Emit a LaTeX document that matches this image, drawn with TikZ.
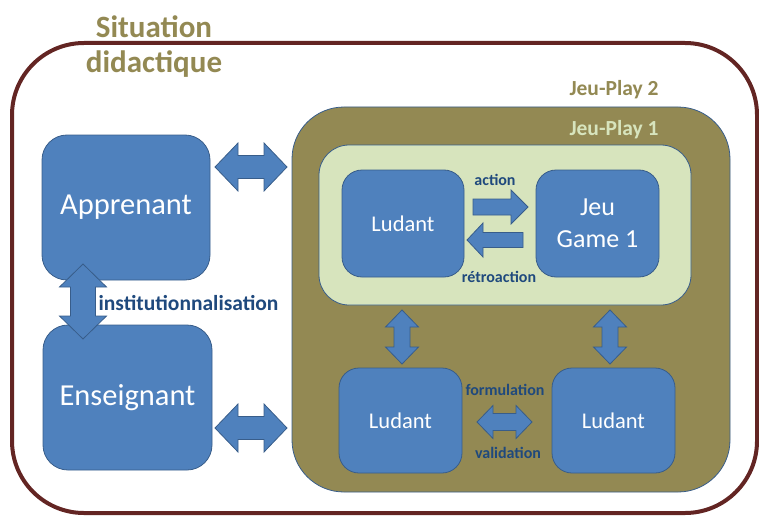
\documentclass[tikz,border=0pt]{standalone}
\usepackage{fontspec}
\setmainfont{Carlito}
\usetikzlibrary{calc}
\definecolor{olive}{HTML}{938953}
\definecolor{lgreen}{HTML}{D7E4BD}
\definecolor{bfill}{HTML}{4F81BD}
\definecolor{bline}{HTML}{385D8A}
\definecolor{dred}{HTML}{632523}
\definecolor{lblue}{HTML}{1F497D}
\tikzset{
  bluebox/.style={draw=bline, fill=bfill, line width=0.8pt, rounded corners=20pt, text=white, align=center, inner sep=0pt},
  barrow/.style={draw=bline, fill=bfill, line width=0.8pt, line join=miter},
  lbl/.style={text=lblue, font=\bfseries\fontsize{16}{18}\selectfont, inner sep=0pt},
  bigtxt/.style={font=\fontsize{30.5}{33}\selectfont},
  midtxt/.style={font=\fontsize{22.5}{30}\selectfont},
  gametxt/.style={font=\fontsize{26}{32}\selectfont},
  playlbl/.style={font=\bfseries\fontsize{21.5}{23}\selectfont, inner sep=0pt},
  sitlbl/.style={text=olive, font=\bfseries\fontsize{31}{33}\selectfont, inner sep=0pt},
}
% horizontal double arrow: #1 left end, #2 right end, #3 half head, #4 half shaft, #5 head length
\newcommand{\hdarrow}[5]{%
  \path[barrow] let \p1=(#1), \p2=(#2) in
    (\x1,\y1) -- (\x1+#5pt,\y1+#3pt) -- (\x1+#5pt,\y1+#4pt) -- (\x2-#5pt,\y1+#4pt) -- (\x2-#5pt,\y1+#3pt)
    -- (\x2,\y1) -- (\x2-#5pt,\y1-#3pt) -- (\x2-#5pt,\y1-#4pt) -- (\x1+#5pt,\y1-#4pt) -- (\x1+#5pt,\y1-#3pt) -- cycle;}
% vertical double arrow: #1 bottom end, #2 top end (canvas)
\newcommand{\vdarrow}[5]{%
  \path[barrow] let \p1=(#1), \p2=(#2) in
    (\x1,\y1) -- (\x1+#3pt,\y1+#5pt) -- (\x1+#4pt,\y1+#5pt) -- (\x1+#4pt,\y2-#5pt) -- (\x1+#3pt,\y2-#5pt)
    -- (\x1,\y2) -- (\x1-#3pt,\y2-#5pt) -- (\x1-#4pt,\y2-#5pt) -- (\x1-#4pt,\y1+#5pt) -- (\x1-#3pt,\y1+#5pt) -- cycle;}
% single horizontal arrow: #1 tail, #2 tip, #3 half head, #4 half shaft, #5 signed head length
\newcommand{\hsarrow}[5]{%
  \path[barrow] let \p1=(#1), \p2=(#2) in
    (\x1,\y1+#4pt) -- (\x2-#5pt,\y1+#4pt) -- (\x2-#5pt,\y1+#3pt) -- (\x2,\y1) -- (\x2-#5pt,\y1-#3pt)
    -- (\x2-#5pt,\y1-#4pt) -- (\x1,\y1-#4pt) -- cycle;}
\begin{document}
\begin{tikzpicture}[x=1pt,y=-1pt]
\useasboundingbox (0,0) rectangle (759,516);
% outer frame
\draw[draw=dred, line width=4pt, rounded corners=72pt] (12,43) rectangle (757,513);
\node[sitlbl] (sit1) at (154,27) {Situation};
\node[sitlbl] (sit2) at (154,64) {didactique};
% Jeu-Play 2
\node[draw=bline, fill=olive, line width=0.8pt, rounded corners=52pt, minimum width=438pt, minimum height=385pt, inner sep=0pt] (play2) at (511,299.5) {};
\node[playlbl, text=olive] (p2lbl) at (614,90) {Jeu-Play 2};
% Jeu-Play 1
\node[draw=bline, fill=lgreen, line width=0.8pt, rounded corners=30pt, minimum width=372pt, minimum height=160pt, inner sep=0pt] (play1) at (505,225) {};
\node[playlbl, text=lgreen] (p1lbl) at (614,130) {Jeu-Play 1};
% boxes
\node[bluebox, bigtxt, minimum width=168pt, minimum height=145pt, rounded corners=25pt] (app) at (126,207.5) {Apprenant};
\node[bluebox, bigtxt, minimum width=169pt, minimum height=145pt, rounded corners=25pt] (ens) at (127.5,397.5) {Enseignant};
\node[bluebox, midtxt, minimum width=122pt, minimum height=107pt] (lud1) at (403,223.5) {Ludant};
\node[bluebox, gametxt, minimum width=123pt, minimum height=107pt] (game) at (597.5,223.5) {Jeu\\Game 1};
\node[bluebox, midtxt, minimum width=123pt, minimum height=105pt] (lud2) at (400.5,420.5) {Ludant};
\node[bluebox, midtxt, minimum width=123pt, minimum height=105pt] (lud3) at (613.5,420.5) {Ludant};
% arrow end coordinates
\coordinate (a1l) at (215,167);  \coordinate (a1r) at (287,167);
\coordinate (a2l) at (215,428);  \coordinate (a2r) at (287,428);
\coordinate (vb) at (83,339);    \coordinate (vt) at (83,264);
\coordinate (v1b) at (402,364);  \coordinate (v1t) at (402,310);
\coordinate (v2b) at (610,364);  \coordinate (v2t) at (610,310);
\coordinate (fl) at (477,422);   \coordinate (fr) at (532,422);
\coordinate (act1) at (473,207); \coordinate (act2) at (528,207);
\coordinate (ret1) at (523,240); \coordinate (ret2) at (467,240);
\hdarrow{a1l}{a1r}{24}{11.5}{23}
\hdarrow{a2l}{a2r}{24}{11.5}{23}
\vdarrow{vb}{vt}{23.5}{12.5}{23}
\vdarrow{v1b}{v1t}{16.5}{8}{17}
\vdarrow{v2b}{v2t}{16.5}{8}{17}
\hdarrow{fl}{fr}{16.5}{8.5}{16}
\hsarrow{act1}{act2}{17}{8}{17}
\hsarrow{ret1}{ret2}{17}{7.5}{-16}
% labels
\node[lbl, font=\bfseries\fontsize{21.5}{23}\selectfont, fill=white, inner xsep=1pt, inner ysep=2pt] (inst) at (188.5,303) {institutionnalisation};
\node[lbl] (lact) at (495,180) {action};
\node[lbl] (lret) at (499,277) {rétroaction};
\node[lbl] (lfor) at (505,390) {formulation};
\node[lbl] (lval) at (508,453) {validation};
\end{tikzpicture}
\end{document}
